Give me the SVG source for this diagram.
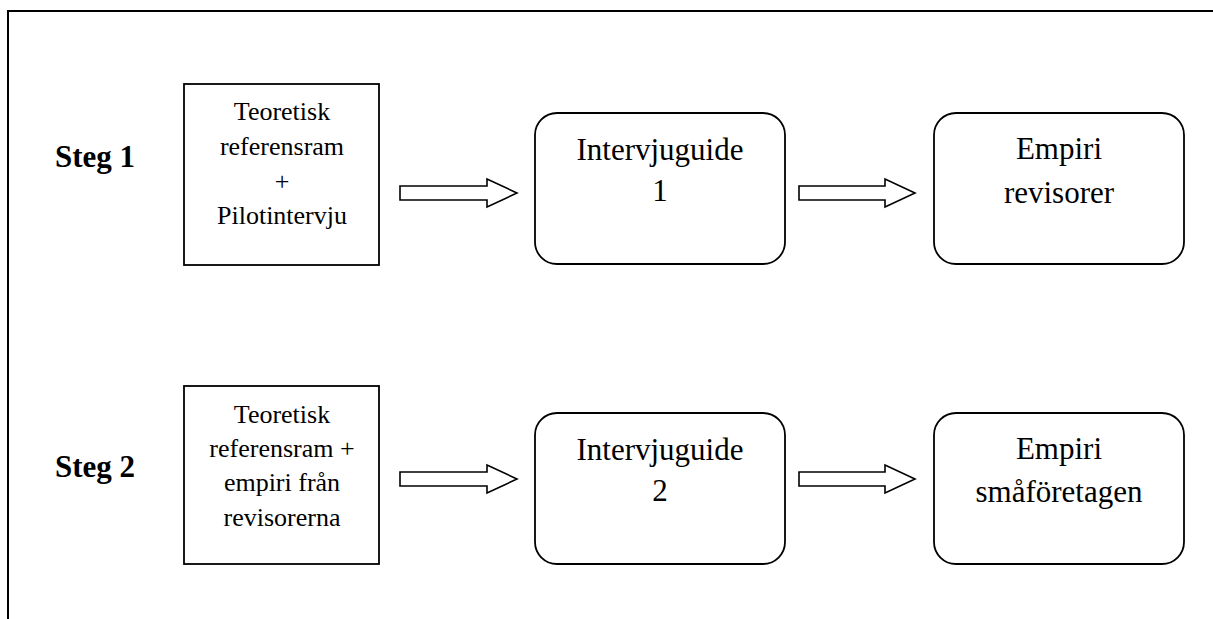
<svg xmlns="http://www.w3.org/2000/svg" width="1213" height="619" viewBox="0 0 1213 619">
<style>
.frame{fill:none;stroke:#000;stroke-width:2}
.box{fill:#fff;stroke:#000;stroke-width:1.8}
.arrow{fill:#fff;stroke:#000;stroke-width:1.6;stroke-linejoin:miter}
.t{font-family:"Liberation Serif","Times New Roman",serif;fill:#000;text-anchor:middle}
.s{font-size:26px}
.l{font-size:31px}
.b{font-family:"Liberation Serif","Times New Roman",serif;font-weight:bold;font-size:31px;fill:#000}
</style>
<rect width="1213" height="619" fill="#fff"/>
<path class="frame" d="M8,619 V11 H1213"/>
<text class="b" x="55" y="167">Steg 1</text>
<text class="b" x="55" y="477">Steg 2</text>
<g id="n1">
<rect class="box" x="184" y="84" width="195" height="181"/>
<text class="t s" x="282" y="120">Teoretisk</text>
<text class="t s" x="282" y="155">referensram</text>
<text class="t s" x="282" y="190">+</text>
<text class="t s" x="282" y="224">Pilotintervju</text>
</g>
<g id="n2">
<rect class="box" x="535" y="113" width="250" height="151" rx="22" ry="22"/>
<text class="t l" x="660" y="160">Intervjuguide</text>
<text class="t l" x="660" y="201">1</text>
</g>
<g id="n3">
<rect class="box" x="934" y="113" width="250" height="151" rx="22" ry="22"/>
<text class="t l" x="1059" y="159">Empiri</text>
<text class="t l" x="1059" y="203">revisorer</text>
</g>
<g id="n4">
<rect class="box" x="184" y="386" width="195" height="178"/>
<text class="t s" x="282" y="423">Teoretisk</text>
<text class="t s" x="282" y="457">referensram +</text>
<text class="t s" x="282" y="491">empiri från</text>
<text class="t s" x="282" y="526">revisorerna</text>
</g>
<g id="n5">
<rect class="box" x="535" y="413" width="250" height="151" rx="22" ry="22"/>
<text class="t l" x="660" y="460">Intervjuguide</text>
<text class="t l" x="660" y="501">2</text>
</g>
<g id="n6">
<rect class="box" x="934" y="413" width="250" height="151" rx="22" ry="22"/>
<text class="t l" x="1059" y="459">Empiri</text>
<text class="t l" x="1059" y="502">småföretagen</text>
</g>
<g id="connectors">
<path class="arrow" d="M400,186 H487 V179 L517,193 L487,207 V200 H400 Z"/>
<path class="arrow" d="M799,186 H885 V179 L915,193 L885,207 V200 H799 Z"/>
<path class="arrow" d="M400,472 H487 V465 L517,479 L487,493 V486 H400 Z"/>
<path class="arrow" d="M799,472 H885 V465 L915,479 L885,493 V486 H799 Z"/>
</g>
</svg>
